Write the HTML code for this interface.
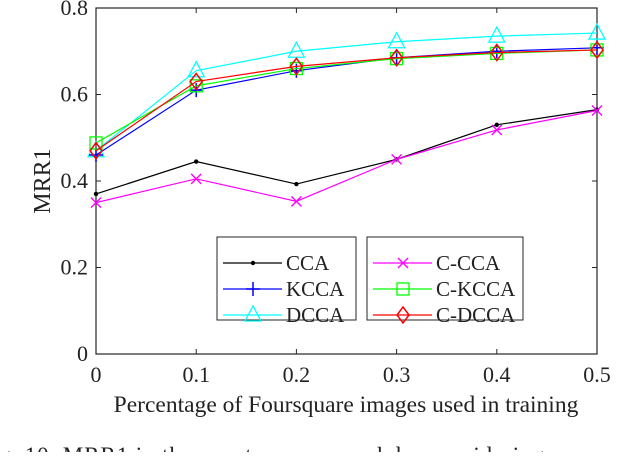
<!DOCTYPE html>
<html><head><meta charset="utf-8"><style>
body{margin:0;background:#fff;width:640px;height:452px;overflow:hidden}
svg text{font-family:"Liberation Serif",serif;fill:#222}
</style></head><body>
<svg id="c" width="640" height="452"></svg>
<script>
const categories=[0,0.1,0.2,0.3,0.4,0.5];
const yTicks=[0,0.2,0.4,0.6,0.8];
const cca=[0.37,0.445,0.393,0.45,0.53,0.565];
const kcca=[0.46,0.61,0.655,0.685,0.70,0.708];
const dcca=[0.47,0.655,0.70,0.722,0.735,0.742];
const ccca=[0.35,0.405,0.353,0.45,0.518,0.563];
const ckcca=[0.488,0.62,0.66,0.683,0.695,0.703];
const cdcca=[0.47,0.63,0.665,0.685,0.697,0.703];
const NS="http://www.w3.org/2000/svg",svg=document.getElementById('c');
const L=96,R=597,T=8,B=354;
const X=v=>L+(v-0)/0.5*(R-L), Y=v=>B-v/0.8*(B-T);
function el(t,a,p){const e=document.createElementNS(NS,t);for(const k in a)e.setAttribute(k,a[k]);(p||svg).appendChild(e);return e;}
const ax=el('g',{});
el('rect',{x:L,y:T,width:R-L,height:B-T,fill:'none',stroke:'#262626','stroke-width':1.2},ax);
categories.forEach(c=>{const x=X(c);el('line',{x1:x,x2:x,y1:B,y2:B-5,stroke:'#262626'},ax);el('line',{x1:x,x2:x,y1:T,y2:T+5,stroke:'#262626'},ax);
const t=el('text',{x:x,y:B+28,'text-anchor':'middle','font-size':22},ax);t.textContent=c;});
yTicks.forEach(v=>{const y=Y(v);el('line',{x1:L,x2:L+5,y1:y,y2:y,stroke:'#262626'},ax);el('line',{x1:R,x2:R-5,y1:y,y2:y,stroke:'#262626'},ax);
const t=el('text',{x:L-8,y:y+7,'text-anchor':'end','font-size':22},ax);t.textContent=v;});
let t=el('text',{x:346,y:412,'text-anchor':'middle','font-size':23.5});t.textContent='Percentage of Foursquare images used in training';

t=el('text',{x:50,y:181,'text-anchor':'middle','font-size':24,transform:'rotate(-90 50 181)'});t.textContent='MRR1';

t=el('text',{x:-22,y:463,'font-size':23,textLength:700});t.textContent='Fig. 10.   MRR1 in the exact venue search by considering coarse positi';

function marker(g,type,x,y,col){
 if(type==='dot')el('circle',{cx:x,cy:y,r:2.2,fill:col},g);
 else if(type==='plus'){el('path',{d:`M${x-7} ${y}H${x+7}M${x} ${y-7}V${y+7}`,stroke:col,'stroke-width':1.5},g);}
 else if(type==='tri')el('path',{d:`M${x} ${y-9}L${x+8} ${y+6}L${x-8} ${y+6}Z`,fill:'none',stroke:col,'stroke-width':1.3},g);
 else if(type==='x')el('path',{d:`M${x-5} ${y-5}L${x+5} ${y+5}M${x+5} ${y-5}L${x-5} ${y+5}`,stroke:col,'stroke-width':1.4},g);
 else if(type==='sq')el('rect',{x:x-6,y:y-6,width:12,height:12,fill:'none',stroke:col,'stroke-width':1.3},g);
 else if(type==='dia')el('path',{d:`M${x} ${y-8}L${x+6} ${y}L${x} ${y+8}L${x-6} ${y}Z`,fill:'none',stroke:col,'stroke-width':1.5},g);
}
const series=[['cca',cca,'#000','dot','CCA'],['ccca',ccca,'#ff00ff','x','C-CCA'],['dcca',dcca,'#00ffff','tri','DCCA'],['kcca',kcca,'#0000ff','plus','KCCA'],['ckcca',ckcca,'#00ff00','sq','C-KCCA'],['cdcca',cdcca,'#ff0000','dia','C-DCCA']];
series.forEach(s=>{const g=el('g',{});
 el('polyline',{points:s[1].map((v,i)=>X(categories[i])+','+Y(v)).join(' '),fill:'none',stroke:s[2],'stroke-width':1.2},g);
 s[1].forEach((v,i)=>marker(g,s[3],X(categories[i]),Y(v),s[2]));});
const lg=[[217,[series[0],series[3],series[2]]],[367,[series[1],series[4],series[5]]]];
lg.forEach(([bx,items],k)=>{const g=el('g',{});
 el('rect',{x:bx,y:237,width:k?156:139,height:83,fill:'#fff',stroke:'#262626'},g);
 items.forEach((s,i)=>{const y=263+i*26;const e=el('g',{},g);
  el('line',{x1:bx+6,x2:bx+65,y1:y,y2:y,stroke:s[2],'stroke-width':1.2},e);marker(e,s[3],bx+36,y,s[2]);
  const tt=el('text',{x:bx+69,y:y+7,'font-size':21},e);tt.textContent=s[4];});});
</script>
</body></html>
